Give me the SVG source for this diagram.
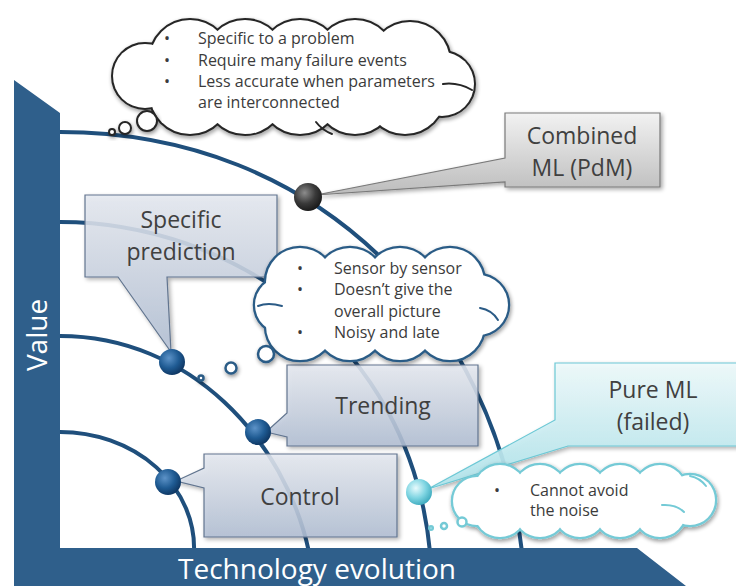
<svg xmlns="http://www.w3.org/2000/svg" xmlns:xlink="http://www.w3.org/1999/xlink" width="736" height="586" viewBox="0 0 736 586">
<style>
.lbl{font-family:"Open Sans","Noto Sans","Liberation Sans",sans-serif;font-size:23px;fill:#404040;text-anchor:middle}
.ct{font-family:"Open Sans","Noto Sans","Liberation Sans",sans-serif;font-size:16px;fill:#3b3b3b}
.ax{font-family:"Open Sans","Noto Sans","Liberation Sans",sans-serif;font-size:28px;fill:#ffffff}
.curve{fill:none;stroke:#1f4f7c;stroke-width:4;stroke-linecap:round}
.bbox{fill:url(#gBlue);fill-opacity:0.86;stroke:#62758f;stroke-width:1.2}
.notch{fill:none;stroke-width:2;stroke-linecap:round}
</style>
<defs>
<linearGradient id="gBlue" x1="0" y1="0" x2="0" y2="1"><stop offset="0" stop-color="#e7ebf2"/><stop offset="1" stop-color="#b2bfd4"/></linearGradient>
<linearGradient id="gGrey" x1="0" y1="0" x2="0" y2="1"><stop offset="0" stop-color="#f2f2f2"/><stop offset="1" stop-color="#bcbcbc"/></linearGradient>
<linearGradient id="gCyan" x1="0" y1="0" x2="0" y2="1"><stop offset="0" stop-color="#effbfc"/><stop offset="1" stop-color="#ade3eb"/></linearGradient>
<radialGradient id="dDark" cx="0.38" cy="0.35" r="0.7"><stop offset="0" stop-color="#8c8c8c"/><stop offset="0.55" stop-color="#3a3a3a"/><stop offset="1" stop-color="#161616"/></radialGradient>
<radialGradient id="dBlue" cx="0.38" cy="0.35" r="0.7"><stop offset="0" stop-color="#5d93c8"/><stop offset="0.55" stop-color="#1f5b93"/><stop offset="1" stop-color="#0d335e"/></radialGradient>
<radialGradient id="dCyan" cx="0.38" cy="0.35" r="0.7"><stop offset="0" stop-color="#e8fbfd"/><stop offset="0.55" stop-color="#7fd5e2"/><stop offset="1" stop-color="#3aa8bc"/></radialGradient>
<filter id="bsh" x="-10%" y="-10%" width="125%" height="130%">
<feGaussianBlur in="SourceAlpha" stdDeviation="2"/><feOffset dx="2" dy="2"/>
<feComponentTransfer><feFuncA type="linear" slope="0.35"/></feComponentTransfer>
<feMerge><feMergeNode/><feMergeNode in="SourceGraphic"/></feMerge>
</filter>
<filter id="csh" x="-10%" y="-20%" width="120%" height="145%">
<feGaussianBlur in="SourceAlpha" stdDeviation="2.2"/><feOffset dx="1" dy="2"/>
<feComponentTransfer><feFuncA type="linear" slope="0.45"/></feComponentTransfer>
<feMerge><feMergeNode/><feMergeNode in="SourceGraphic"/></feMerge>
</filter>
<g id="c1shape">
<circle cx="190" cy="60" r="40"/><circle cx="245" cy="60" r="40"/><circle cx="300" cy="60" r="40"/><circle cx="355" cy="60" r="40"/><circle cx="410" cy="62" r="40"/>
<circle cx="145" cy="76" r="32"/><circle cx="442" cy="84" r="32"/>
<circle cx="190" cy="94" r="40"/><circle cx="245" cy="94" r="40"/><circle cx="300" cy="94" r="40"/><circle cx="355" cy="94" r="40"/><circle cx="405" cy="94" r="40"/>
</g>
<g id="c2shape">
<circle cx="300" cy="282" r="34"/><circle cx="350" cy="282" r="34"/><circle cx="400" cy="282" r="34"/><circle cx="450" cy="282" r="34"/>
<circle cx="478" cy="305" r="30"/><circle cx="283" cy="305" r="28"/>
<circle cx="300" cy="326" r="34"/><circle cx="350" cy="326" r="34"/><circle cx="400" cy="326" r="34"/><circle cx="450" cy="326" r="34"/>
</g>
<g id="c3shape">
<circle cx="500" cy="491" r="26"/><circle cx="540" cy="491" r="26"/><circle cx="580" cy="491" r="26"/><circle cx="620" cy="491" r="26"/><circle cx="660" cy="491" r="26"/>
<circle cx="690" cy="500" r="25"/><circle cx="477" cy="501" r="24"/>
<circle cx="500" cy="511" r="26"/><circle cx="540" cy="511" r="26"/><circle cx="580" cy="511" r="26"/><circle cx="620" cy="511" r="26"/><circle cx="660" cy="511" r="26"/>
</g>
</defs>

<rect x="0" y="0" width="736" height="586" fill="#ffffff"/>

<g id="connectors">
<path class="curve" d="M50,132 L60,132 C320,132 495,320 522,552"/>
<path class="curve" d="M50,222 L60,222 C230,222 410,340 430,552"/>
<path class="curve" d="M50,336 L60,336 C190,336 285,440 309,552"/>
<path class="curve" d="M50,432 L60,432 A134,116 0 0 1 194,552"/>
</g>

<g id="axes">
<polygon points="14,80 60,113 60,548 637,548 686,586 14,586" fill="#2f5f8b"/>
<text class="ax" transform="translate(47,335) rotate(-90)" text-anchor="middle">Value</text>
<text class="ax" x="178" y="579">Technology evolution</text>
</g>

<g id="node-combined">
<path d="M505,113 H660 V187 H505 V182 L316,195 L505,158 Z" fill="url(#gGrey)" stroke="#7a7a7a" stroke-width="1.2" filter="url(#bsh)"/>
<text class="lbl" x="582" y="144">Combined</text>
<text class="lbl" x="582" y="176">ML (PdM)</text>
<circle cx="308" cy="197" r="14" fill="url(#dDark)"/>
</g>

<g id="node-specific">
<path class="bbox" d="M85,195 H277 V277 H167 L171,352 L118,277 H85 Z" filter="url(#bsh)"/>
<text class="lbl" x="181" y="228">Specific</text>
<text class="lbl" x="181" y="260">prediction</text>
<circle cx="172" cy="362" r="13" fill="url(#dBlue)"/>
</g>

<g id="node-trending">
<path class="bbox" d="M287,365 H478 V446 H287 V437 L266,432 L287,413 Z" filter="url(#bsh)"/>
<text class="lbl" x="383" y="414">Trending</text>
<circle cx="258" cy="432" r="13" fill="url(#dBlue)"/>
</g>

<g id="node-control">
<path class="bbox" d="M204,454 H397 V537 H204 V488 L176,481 L204,468 Z" filter="url(#bsh)"/>
<text class="lbl" x="300" y="505">Control</text>
<circle cx="168" cy="482" r="13" fill="url(#dBlue)"/>
</g>

<g id="node-pureml">
<path d="M555,363 H745 V446 H568 L428,489 L555,420 Z" fill="url(#gCyan)" fill-opacity="0.9" stroke="#6cc8d5" stroke-width="1.2" filter="url(#bsh)"/>
<text class="lbl" x="653" y="398">Pure ML</text>
<text class="lbl" x="653" y="430">(failed)</text>
<circle cx="419" cy="492" r="13" fill="url(#dCyan)"/>
</g>

<g id="cloud-limits">
<use xlink:href="#c1shape" fill="none" stroke="#262626" stroke-width="4" filter="url(#csh)"/>
<use xlink:href="#c1shape" fill="#ffffff"/>
<path class="notch" stroke="#262626" d="M443,84 Q458,82 472,90"/>
<path class="notch" stroke="#262626" d="M316,122 Q322,130 332,134"/>
<g fill="#ffffff" stroke="#262626" stroke-width="2" filter="url(#csh)">
<circle cx="147" cy="121" r="10"/><circle cx="125" cy="128" r="6"/><circle cx="112" cy="132" r="3"/>
</g>
<text class="ct" x="164" y="44">•</text><text class="ct" x="164" y="66">•</text><text class="ct" x="164" y="87">•</text>
<text class="ct" x="198" y="44">Specific to a problem</text>
<text class="ct" x="198" y="66">Require many failure events</text>
<text class="ct" x="198" y="87">Less accurate when parameters</text>
<text class="ct" x="198" y="108">are interconnected</text>
</g>

<g id="cloud-trending">
<use xlink:href="#c2shape" fill="none" stroke="#2b5b86" stroke-width="4.5" filter="url(#csh)"/>
<use xlink:href="#c2shape" fill="#ffffff"/>
<path class="notch" stroke="#2b5b86" d="M480,308 Q492,310 498,320"/>
<path class="notch" stroke="#2b5b86" d="M258,306 Q268,302 282,306"/>
<g fill="#ffffff" stroke="#2b5b86" stroke-width="2.5" filter="url(#csh)">
<circle cx="266" cy="354" r="8"/><circle cx="231" cy="368" r="5.5"/><circle cx="201" cy="378" r="2.5"/>
</g>
<text class="ct" x="297" y="274">•</text><text class="ct" x="297" y="295">•</text><text class="ct" x="297" y="338">•</text>
<text class="ct" x="334" y="274">Sensor by sensor</text>
<text class="ct" x="334" y="295">Doesn’t give the</text>
<text class="ct" x="334" y="317">overall picture</text>
<text class="ct" x="334" y="338">Noisy and late</text>
</g>

<g id="cloud-pureml">
<use xlink:href="#c3shape" fill="none" stroke="#74cad6" stroke-width="4.5" filter="url(#csh)"/>
<use xlink:href="#c3shape" fill="#ffffff"/>
<path class="notch" stroke="#74cad6" d="M662,505 Q676,504 684,512"/>
<path class="notch" stroke="#74cad6" d="M690,476 Q700,478 706,486"/>
<g fill="#ffffff" stroke="#74cad6" stroke-width="2.5">
<circle cx="462" cy="522" r="4.5"/><circle cx="444" cy="526" r="3"/><circle cx="431" cy="528" r="1.8"/>
</g>
<text class="ct" x="494" y="496">•</text>
<text class="ct" x="530" y="496">Cannot avoid</text>
<text class="ct" x="530" y="516">the noise</text>
</g>
</svg>
